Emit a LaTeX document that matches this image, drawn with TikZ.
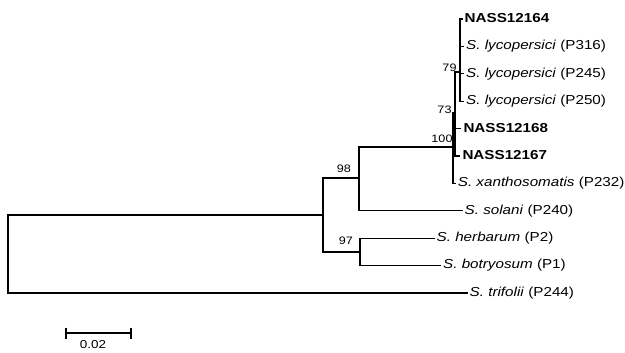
\documentclass[tikz,border=0pt]{standalone}
\usepackage{fontspec}
\setmainfont{Liberation Sans}[FakeStretch=1.17]
\begin{document}
\begin{tikzpicture}[x={(1pt,0)}, y={(0,-1pt)},
  branch/.style={line width=1.35pt, line join=miter, line cap=rect},
  support/.style={line width=2.4pt},
  leaf/.style={anchor=west, inner ysep=0pt, inner xsep=2.5pt, font=\fontsize{13}{15}\selectfont,
               text height=9.5pt, text depth=2.7pt},
  isolate/.style={leaf, font=\fontsize{13}{15}\selectfont\bfseries},
  boot/.style={inner sep=0pt, font=\fontsize{10.8}{12}\selectfont},
  scalebar/.style={line width=2pt}]
\useasboundingbox (0,0) rectangle (625,353);

% tips
\node[isolate] (nass64) at (462.0, 19.0) {NASS12164};
\node[leaf] (p316)  at (463.5, 46.4) {\textit{S. lycopersici} (P316)};
\node[leaf] (p245)  at (463.5, 73.8) {\textit{S. lycopersici} (P245)};
\node[leaf] (p250)  at (463.5,101.2) {\textit{S. lycopersici} (P250)};
\node[isolate] (nass68) at (460.8,128.6) {NASS12168};
\node[isolate] (nass67) at (459.8,156.0) {NASS12167};
\node[leaf] (p232)  at (455.2,183.4) {\textit{S. xanthosomatis} (P232)};
\node[leaf] (p240)  at (462.0,210.8) {\textit{S. solani} (P240)};
\node[leaf] (p2)    at (434.0,238.2) {\textit{S. herbarum} (P2)};
\node[leaf] (p1)    at (440.5,265.6) {\textit{S. botryosum} (P1)};
\node[leaf] (p244)  at (467.0,293.0) {\textit{S. trifolii} (P244)};

% internal nodes
\coordinate (n79)  at (460, 72);
\coordinate (n73)  at (455,113);
\coordinate (n100) at (453,147);
\coordinate (n98)  at (359,178);
\coordinate (n97)  at (360,252);
\coordinate (nA)   at (323,215);
\coordinate (root) at (8,254);

% branches
\draw[branch] (nass64.west) -| (n79) |- (p250.west);
\draw[branch] (n79) |- (p316.west);
\draw[branch] (n79) |- (p245.west);
\draw[support] (n79 |- p316.west) -- (n79 |- p245.west);
\draw[branch] (n79) -| (n73) |- (nass67.west);
\draw[branch] (n73) |- (nass68.west);
\draw[branch] (n73) -| (n100) |- (p232.west);
\draw[branch] (n100) -| (n98) |- (p240.west);
\draw[branch] (p2.west) -| (n97) |- (p1.west);
\draw[branch] (n98) -| (nA) |- (n97);
\draw[branch] (nA) -| (root) |- (p244.west);

% bootstrap values
\node[boot] (b79)  at (449.5, 68.0) {79};
\node[boot] (b73)  at (444.5,109.5) {73};
\node[boot] (b100) at (442.0,138.5) {100};
\node[boot] (b98)  at (344.0,169.0) {98};
\node[boot] (b97)  at (346.0,241.0) {97};

% scale bar
\coordinate (sbl) at (66,333);
\coordinate (sbr) at (131,333);
\draw[scalebar] (sbl) -- (sbr);
\draw[line width=1.5pt] (sbl) ++(0,-5.5) -- ++(0,11);
\draw[line width=1.5pt] (sbr) ++(0,-5.5) -- ++(0,11);
\node[inner sep=0pt, font=\fontsize{11.5}{13}\selectfont] (sblab) at (93,344.5) {0.02};
\end{tikzpicture}
\end{document}
